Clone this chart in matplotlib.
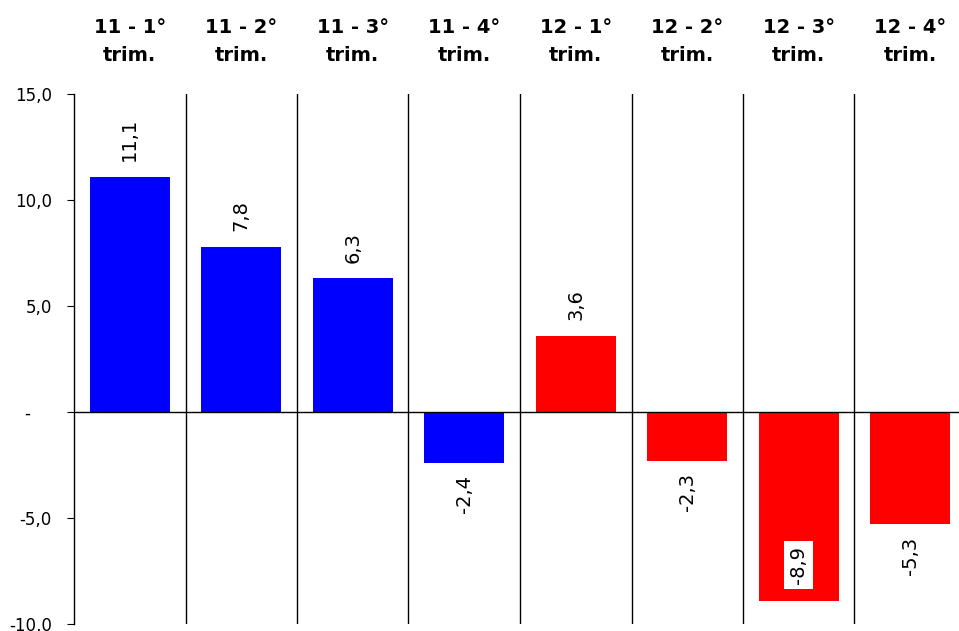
import matplotlib
matplotlib.use("Agg")
import matplotlib.pyplot as plt

plt.rcParams["font.family"] = ["DejaVu Sans"]

# dati
categorie = ["11 - 1°\ntrim.", "11 - 2°\ntrim.", "11 - 3°\ntrim.", "11 - 4°\ntrim.",
             "12 - 1°\ntrim.", "12 - 2°\ntrim.", "12 - 3°\ntrim.", "12 - 4°\ntrim."]
valori = [11.1, 7.8, 6.3, -2.4, 3.6, -2.3, -8.9, -5.3]
colori = ["#0000FF", "#0000FF", "#0000FF", "#0000FF",
          "#FF0000", "#FF0000", "#FF0000", "#FF0000"]
y_ticks = [-10, -5, 0, 5, 10, 15]


def fmt(v):
    return f"{v:.1f}".replace(".", ",")


fig = plt.figure(figsize=(9.59, 6.31), dpi=100)
ax = fig.add_axes([74 / 959, 7 / 631, 892 / 959, 530 / 631])

x = list(range(len(valori)))
ax.bar(x, valori, width=0.72, color=colori, zorder=2)

ax.set_xlim(-0.5, len(valori) - 0.5)
ax.set_ylim(-10, 15)

# separatori tra le categorie
for i in range(1, len(valori)):
    ax.axvline(i - 0.5, color="black", lw=1, zorder=1)
ax.axhline(0, color="black", lw=1, zorder=3)

# etichette valori
for xi, v in zip(x, valori):
    if v >= 0:
        ax.annotate(fmt(v), (xi, v), xytext=(0, 11), textcoords="offset points",
                    rotation=90, ha="center", va="bottom", fontsize=14)
    elif v < -7:
        ax.annotate(fmt(v), (xi, v), xytext=(0, 12), textcoords="offset points",
                    rotation=90, ha="center", va="bottom", fontsize=14, zorder=4,
                    bbox=dict(boxstyle="square,pad=0.25", fc="white", ec="none"))
    else:
        ax.annotate(fmt(v), (xi, v), xytext=(0, -9), textcoords="offset points",
                    rotation=90, ha="center", va="top", fontsize=14)

# asse x in alto
ax.xaxis.set_ticks_position("top")
ax.set_xticks(x)
ax.set_xticklabels(categorie, fontsize=14, fontweight="bold", linespacing=1.6)
ax.tick_params(axis="x", length=0, pad=21)

ax.set_yticks(y_ticks)
ax.set_yticklabels([fmt(t) if t != 0 else "-    " for t in y_ticks], fontsize=12)
ax.tick_params(axis="y", direction="out", length=5, pad=11)

for s in ["top", "right", "bottom"]:
    ax.spines[s].set_visible(False)
ax.spines["left"].set_linewidth(1)

fig.savefig("out.png", dpi=100)
